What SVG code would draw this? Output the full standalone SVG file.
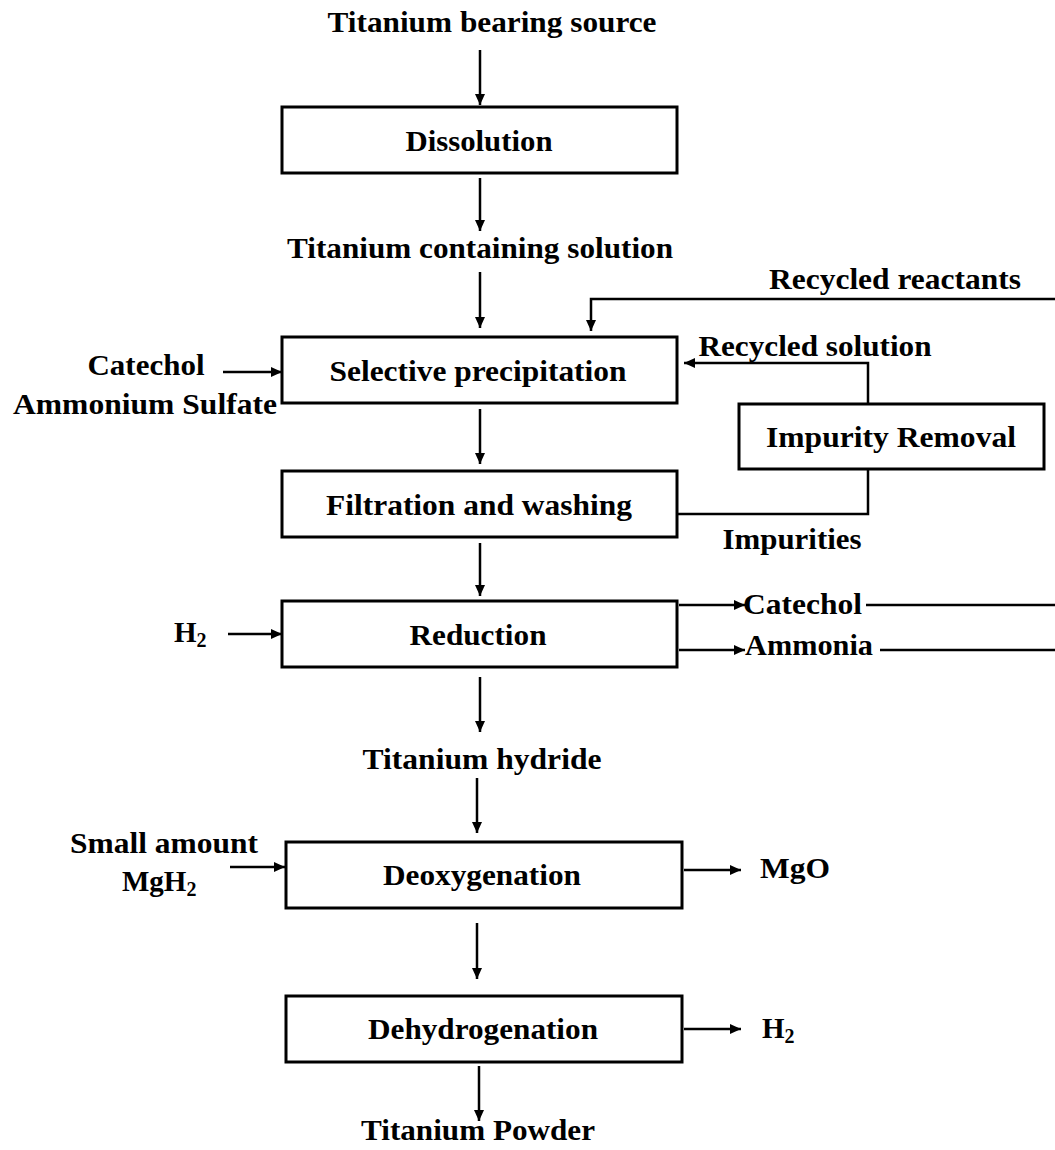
<svg xmlns="http://www.w3.org/2000/svg" width="1055" height="1150" viewBox="0 0 1055 1150">
<defs>
<marker id="ah" markerUnits="userSpaceOnUse" markerWidth="12" markerHeight="10" refX="11" refY="5" orient="auto">
<path d="M0,0 L11,5 L0,10 Z" fill="#000"/>
</marker>
<style>
.box{fill:#fff;stroke:#000;stroke-width:3}
.t{font-family:"Liberation Serif","Times New Roman",serif;font-weight:bold;font-size:29px;fill:#000}
.m{text-anchor:middle}
.ln{fill:none;stroke:#000;stroke-width:2.5}
.ar{fill:none;stroke:#000;stroke-width:2.5;marker-end:url(#ah)}
</style>
</defs>
<rect width="1055" height="1150" fill="#fff"/>

<g id="connectors">
<line class="ar" x1="480" y1="50" x2="480" y2="105"/>
<line class="ar" x1="480" y1="178" x2="480" y2="231"/>
<line class="ar" x1="480" y1="272" x2="480" y2="328"/>
<polyline class="ar" points="1055,299 591,299 591,331"/>
<line class="ar" x1="223" y1="372" x2="282" y2="372"/>
<polyline class="ar" points="868,404 868,363 684,363"/>
<polyline class="ln" points="868,469 868,514 677,514"/>
<line class="ar" x1="480" y1="409" x2="480" y2="464"/>
<line class="ar" x1="480" y1="543" x2="480" y2="596"/>
<line class="ar" x1="228" y1="634" x2="282" y2="634"/>
<line class="ar" x1="679" y1="605" x2="745" y2="605"/>
<line class="ln" x1="866" y1="605" x2="1055" y2="605"/>
<line class="ar" x1="679" y1="650" x2="745" y2="650"/>
<line class="ln" x1="880" y1="650" x2="1055" y2="650"/>
<line class="ar" x1="480" y1="677" x2="480" y2="732"/>
<line class="ar" x1="477" y1="778" x2="477" y2="833"/>
<line class="ar" x1="230" y1="867" x2="285" y2="867"/>
<line class="ar" x1="684" y1="870" x2="741" y2="870"/>
<line class="ar" x1="477" y1="923" x2="477" y2="979"/>
<line class="ar" x1="684" y1="1029" x2="741" y2="1029"/>
<line class="ar" x1="479" y1="1066" x2="479" y2="1121"/>
</g>

<g id="n-source"><text class="t m" x="492" y="32" textLength="329" lengthAdjust="spacingAndGlyphs">Titanium bearing source</text></g>
<g id="n-dissolution"><rect class="box" x="282" y="107" width="395" height="66"/><text class="t m" x="479" y="151" textLength="147" lengthAdjust="spacingAndGlyphs">Dissolution</text></g>
<g id="n-solution"><text class="t m" x="480" y="258" textLength="386" lengthAdjust="spacingAndGlyphs">Titanium containing solution</text></g>
<g id="n-recycled-reactants"><text class="t m" x="895" y="289" textLength="252" lengthAdjust="spacingAndGlyphs">Recycled reactants</text></g>
<g id="n-catechol-in"><text class="t m" x="146" y="375" textLength="117" lengthAdjust="spacingAndGlyphs">Catechol</text><text class="t m" x="145" y="414" textLength="264" lengthAdjust="spacingAndGlyphs">Ammonium Sulfate</text></g>
<g id="n-selective"><rect class="box" x="282" y="337" width="395" height="66"/><text class="t m" x="478" y="381" textLength="297" lengthAdjust="spacingAndGlyphs">Selective precipitation</text></g>
<g id="n-recycled-solution"><text class="t m" x="815" y="356" textLength="233" lengthAdjust="spacingAndGlyphs">Recycled solution</text></g>
<g id="n-impurity-removal"><rect class="box" x="739" y="404" width="305" height="65"/><text class="t m" x="891" y="447" textLength="250" lengthAdjust="spacingAndGlyphs">Impurity Removal</text></g>
<g id="n-filtration"><rect class="box" x="282" y="471" width="395" height="66"/><text class="t m" x="479" y="515" textLength="306" lengthAdjust="spacingAndGlyphs">Filtration and washing</text></g>
<g id="n-impurities"><text class="t m" x="792" y="549" textLength="139" lengthAdjust="spacingAndGlyphs">Impurities</text></g>
<g id="n-h2-in"><text class="t" x="174" y="642">H<tspan font-size="20" dy="5">2</tspan></text></g>
<g id="n-reduction"><rect class="box" x="282" y="601" width="395" height="66"/><text class="t m" x="478" y="645" textLength="137" lengthAdjust="spacingAndGlyphs">Reduction</text></g>
<g id="n-catechol-out"><text class="t" x="743" y="614" textLength="119" lengthAdjust="spacingAndGlyphs">Catechol</text></g>
<g id="n-ammonia"><text class="t" x="745" y="655" textLength="128" lengthAdjust="spacingAndGlyphs">Ammonia</text></g>
<g id="n-hydride"><text class="t m" x="482" y="769" textLength="239" lengthAdjust="spacingAndGlyphs">Titanium hydride</text></g>
<g id="n-mgh2"><text class="t m" x="164" y="853" textLength="188" lengthAdjust="spacingAndGlyphs">Small amount</text><text class="t" x="122" y="891">MgH<tspan font-size="20" dy="5">2</tspan></text></g>
<g id="n-deoxygenation"><rect class="box" x="286" y="842" width="396" height="66"/><text class="t m" x="482" y="885" textLength="198" lengthAdjust="spacingAndGlyphs">Deoxygenation</text></g>
<g id="n-mgo"><text class="t" x="760" y="878" textLength="70" lengthAdjust="spacingAndGlyphs">MgO</text></g>
<g id="n-dehydrogenation"><rect class="box" x="286" y="996" width="396" height="66"/><text class="t m" x="483" y="1039" textLength="230" lengthAdjust="spacingAndGlyphs">Dehydrogenation</text></g>
<g id="n-h2-out"><text class="t" x="762" y="1038">H<tspan font-size="20" dy="5">2</tspan></text></g>
<g id="n-powder"><text class="t m" x="478" y="1140" textLength="234" lengthAdjust="spacingAndGlyphs">Titanium Powder</text></g>
</svg>
